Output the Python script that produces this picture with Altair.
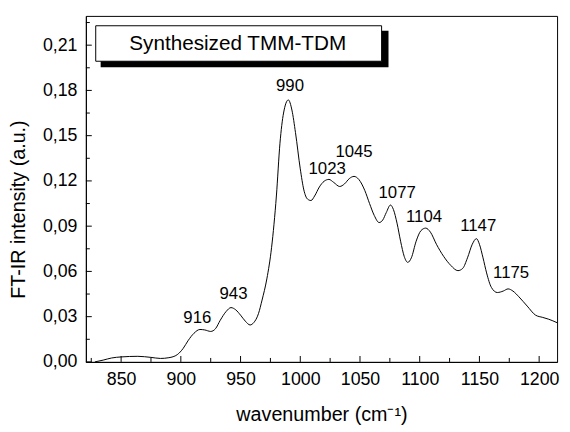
import altair as alt
import pandas as pd

# Spectrum (wavenumber cm^-1, FT-IR intensity a.u.)
wavenumber = [828, 835, 842, 850, 864, 875, 883, 890, 897, 902, 906, 911, 916, 920, 925,
              929, 933, 938, 942, 946, 950, 954, 958, 961, 965, 968, 972, 976, 980, 983,
              986, 990, 993, 996, 1000, 1003, 1006, 1009, 1012, 1016, 1020, 1024, 1028,
              1033, 1037, 1041, 1045, 1049, 1054, 1058, 1062, 1066, 1069, 1072, 1075.5,
              1078, 1081, 1084, 1087, 1090, 1093, 1097, 1101, 1105, 1109, 1114, 1120, 1126,
              1132, 1136, 1140, 1144, 1147.5, 1150, 1153, 1156, 1160, 1165, 1170, 1174,
              1178, 1183, 1190, 1197, 1203, 1208, 1215]
intensity = [0.0, 0.0012, 0.0026, 0.0033, 0.0037, 0.0030, 0.0023, 0.0028, 0.0048, 0.0090,
             0.0140, 0.0190, 0.0215, 0.0212, 0.0202, 0.0220, 0.0276, 0.0335, 0.0360, 0.0345,
             0.0310, 0.0270, 0.0245, 0.0260, 0.0320, 0.0410, 0.0550, 0.0760, 0.1100, 0.1450,
             0.1650, 0.1737, 0.1670, 0.1520, 0.1280, 0.1140, 0.1080, 0.1070, 0.1100, 0.1160,
             0.1198, 0.1210, 0.1190, 0.1163, 0.1180, 0.1215, 0.1230, 0.1210, 0.1137, 0.1050,
             0.0970, 0.0924, 0.0940, 0.0990, 0.1040, 0.1010, 0.0920, 0.0800, 0.0700, 0.0660,
             0.0690, 0.0800, 0.0870, 0.0887, 0.0860, 0.0780, 0.0700, 0.0640, 0.0605, 0.0620,
             0.0690, 0.0780, 0.0817, 0.0780, 0.0690, 0.0590, 0.0494, 0.0460, 0.0470, 0.0484,
             0.0470, 0.0432, 0.0370, 0.0310, 0.0295, 0.0283, 0.0260]

# Peak annotations (text and anchor in data units)
peak_text = ["916", "943", "990", "1023", "1045", "1077", "1104", "1147", "1175"]
peak_x = [913.8, 944.1, 991.4, 1022.5, 1045.0, 1081.1, 1103.6, 1149.0, 1176.5]
peak_y = [0.0288, 0.0451, 0.1830, 0.1279, 0.1394, 0.1120, 0.0963, 0.0902, 0.0588]

x_major = [850, 900, 950, 1000, 1050, 1100, 1150, 1200]
x_minor = [825, 875, 925, 975, 1025, 1075, 1125, 1175]
y_major = [0.0, 0.03, 0.06, 0.09, 0.12, 0.15, 0.18, 0.21]
y_minor = [0.015, 0.045, 0.075, 0.105, 0.135, 0.165, 0.195, 0.225]

legend_label = "Synthesized TMM-TDM"

W, H = 478, 351
FONT = "Liberation Sans"

spec = pd.DataFrame({"wn": wavenumber, "val": intensity})
peaks = pd.DataFrame({"wn": peak_x, "val": peak_y, "t": peak_text})

xscale = alt.Scale(domain=[820.5, 1215], nice=False, zero=False)
yscale = alt.Scale(domain=[0, 0.2294], nice=False)

xaxis = alt.Axis(values=x_major, title="wavenumber (cm⁻¹)", grid=False, ticks=False,
                 tickSize=0, format="d", labelFontSize=18, labelFont=FONT, labelColor="black",
                 labelPadding=9, titleFontSize=20, titleFont=FONT, titleFontWeight="normal",
                 titleColor="black", titleY=59, titleBaseline="alphabetic",
                 domainColor="black", labelFlush=False)
yaxis = alt.Axis(values=y_major, title="FT-IR intensity (a.u.)", grid=False, ticks=False,
                 tickSize=0, labelFontSize=18, labelFont=FONT, labelColor="black",
                 labelPadding=9,
                 labelExpr="replace(format(datum.value, '.2f'), '.', ',')",
                 titleFontSize=20, titleFont=FONT, titleFontWeight="normal",
                 titleColor="black", titleX=-62, titleY=196, titleAngle=-90,
                 titleBaseline="alphabetic", titleAlign="center",
                 domainColor="black", labelFlush=False)


def X(field="wn"):
    return alt.X(f"{field}:Q", scale=xscale, axis=xaxis)


def Y(field="val"):
    return alt.Y(f"{field}:Q", scale=yscale, axis=yaxis)


line = alt.Chart(spec).mark_line(color="black", strokeWidth=1, interpolate="monotone").encode(
    x=X(), y=Y())

labels = alt.Chart(peaks).mark_text(font=FONT, fontSize=17, color="black",
                                    baseline="middle", align="center").encode(
    x=X(), y=Y(), text="t:N")

xmaj = alt.Chart(pd.DataFrame({"wn": x_major})).mark_rule(color="black", strokeWidth=1).encode(
    x=X(), y=alt.value(H), y2=alt.value(H - 6))
xmin = alt.Chart(pd.DataFrame({"wn": x_minor})).mark_rule(color="black", strokeWidth=1).encode(
    x=X(), y=alt.value(H), y2=alt.value(H - 4))
ymaj = alt.Chart(pd.DataFrame({"val": y_major})).mark_rule(color="black", strokeWidth=1).encode(
    y=Y(), x=alt.value(0), x2=alt.value(6))
ymin = alt.Chart(pd.DataFrame({"val": y_minor})).mark_rule(color="black", strokeWidth=1).encode(
    y=Y(), x=alt.value(0), x2=alt.value(4))

dummy = pd.DataFrame({"t": [legend_label]})
shadow = alt.Chart(dummy).mark_rect(color="black").encode(
    x=alt.value(15), x2=alt.value(307), y=alt.value(15), y2=alt.value(52))
box = alt.Chart(dummy).mark_rect(fill="white", stroke="black", strokeWidth=1).encode(
    x=alt.value(10), x2=alt.value(300), y=alt.value(10), y2=alt.value(46))
box_text = alt.Chart(dummy).mark_text(font=FONT, fontSize=21, color="black",
                                      align="center", baseline="alphabetic").encode(
    x=alt.value(154), y=alt.value(35), text="t:N")

chart = alt.layer(line, labels, xmaj, xmin, ymaj, ymin, shadow, box, box_text).properties(
    width=W, height=H,
    padding={"left": 79, "top": 5, "right": 5, "bottom": 62},
    autosize="none",
    background="white",
).configure_view(stroke="black", strokeWidth=1)

chart.save("out.html", embed_options={"renderer": "svg", "actions": False})
